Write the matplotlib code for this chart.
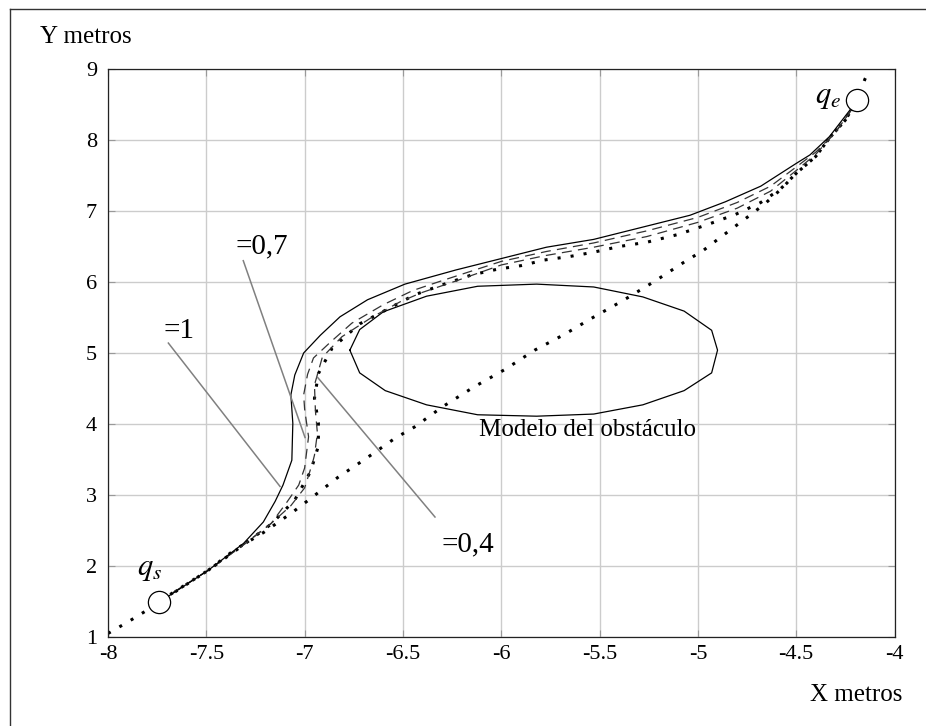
import matplotlib
matplotlib.use("Agg")
import matplotlib.pyplot as plt
from matplotlib.lines import Line2D

plt.rcParams['font.family'] = ['Liberation Serif', 'DejaVu Serif']
plt.rcParams['mathtext.fontset'] = 'stix'
plt.rcParams['axes.unicode_minus'] = False

#===== DATA =====#
# start / goal configurations
q_start = (-7.74, 1.50)
q_end = (-4.19, 8.56)

# straight reference path (dotted)
diag_x = [-8.0, -7.90, -7.80, -7.64, -7.49, -7.36, -7.21, -7.06, -6.97, -6.83, -6.69, -6.54,
          -6.44, -6.30, -6.14, -5.98, -5.83, -5.68, -5.54, -5.38, -5.22, -5.07, -4.97, -4.88,
          -4.74, -4.66, -4.58, -4.50, -4.40, -4.33, -4.25, -4.19, -4.15, -4.13]
diag_y = [1.05, 1.21, 1.38, 1.67, 1.94, 2.22, 2.47, 2.76, 2.95, 3.25, 3.51, 3.80,
          3.96, 4.24, 4.52, 4.77, 5.04, 5.26, 5.49, 5.74, 6.01, 6.28, 6.45, 6.64,
          6.93, 7.10, 7.30, 7.53, 7.77, 8.03, 8.28, 8.56, 8.86, 8.97]

# lambda = 1 (solid)
l1_x = [-7.74, -7.69, -7.49, -7.31, -7.21, -7.15, -7.11, -7.065, -7.06, -7.07, -7.05, -7.005,
        -6.92, -6.82, -6.68, -6.49, -6.23, -6.0, -5.77, -5.53, -5.04, -4.86, -4.68, -4.50,
        -4.43, -4.33, -4.23, -4.19]
l1_y = [1.50, 1.58, 1.94, 2.32, 2.62, 2.91, 3.14, 3.49, 4.01, 4.41, 4.69, 5.00,
        5.25, 5.51, 5.75, 5.97, 6.17, 6.33, 6.49, 6.60, 6.94, 7.13, 7.35, 7.67,
        7.79, 8.05, 8.41, 8.56]

# lambda = 0.7 (dashed, outer)
l07_x = [-7.74, -7.49, -7.31, -7.17, -7.09, -7.03, -7.00, -6.98, -7.00, -7.005, -6.985, -6.955,
         -6.87, -6.76, -6.60, -6.45, -6.30, -6.0, -5.77, -5.53, -5.26, -5.0, -4.80, -4.63,
         -4.50, -4.40, -4.30, -4.23, -4.19]
l07_y = [1.50, 1.94, 2.30, 2.60, 2.90, 3.14, 3.38, 3.82, 4.21, 4.41, 4.70, 4.93,
         5.15, 5.42, 5.68, 5.88, 6.02, 6.29, 6.43, 6.55, 6.72, 6.91, 7.12, 7.35,
         7.62, 7.83, 8.11, 8.38, 8.56]

# intermediate dashed path (inner)
lmid_x = [-7.74, -7.49, -7.31, -7.17, -7.07, -7.00, -6.96, -6.95, -6.935, -6.945, -6.95, -6.91,
          -6.81, -6.66, -6.515, -6.405, -6.235, -6.0, -5.78, -5.53, -5.26, -5.0, -4.80, -4.63,
          -4.50, -4.40, -4.30, -4.23, -4.19]
lmid_y = [1.50, 1.94, 2.30, 2.60, 2.85, 3.10, 3.45, 3.56, 3.87, 4.18, 4.55, 4.94,
          5.23, 5.50, 5.72, 5.85, 6.01, 6.24, 6.37, 6.49, 6.64, 6.84, 7.04, 7.28,
          7.57, 7.80, 8.11, 8.38, 8.56]

# lambda = 0.4 (dotted)
l04_x = [-7.74, -7.49, -7.31, -7.17, -7.05, -6.97, -6.93, -6.93, -6.95, -6.93, -6.86, -6.72,
         -6.57, -6.44, -6.30, -6.15, -6.02, -5.90, -5.78, -5.65, -5.53, -5.40, -5.26, -5.10,
         -4.95, -4.81, -4.68, -4.58, -4.50, -4.40, -4.33, -4.25, -4.19]
l04_y = [1.50, 1.94, 2.30, 2.59, 2.93, 3.33, 3.69, 4.02, 4.36, 4.71, 5.07, 5.41,
         5.63, 5.82, 5.96, 6.10, 6.18, 6.23, 6.31, 6.36, 6.42, 6.50, 6.56, 6.67,
         6.81, 6.95, 7.12, 7.31, 7.53, 7.77, 8.03, 8.28, 8.56]

# obstacle model (polygon)
obs_x = [-6.77, -6.72, -6.60, -6.38, -6.12, -5.82, -5.53, -5.28, -5.07, -4.93, -4.90, -4.93,
         -5.07, -5.28, -5.53, -5.82, -6.12, -6.38, -6.59, -6.72, -6.77]
obs_y = [5.04, 5.33, 5.58, 5.80, 5.94, 5.97, 5.93, 5.79, 5.59, 5.32, 5.04, 4.72,
         4.47, 4.27, 4.14, 4.11, 4.13, 4.27, 4.47, 4.72, 5.04]

# labels: text, text anchor, leader line (start, end)
labels = ['=1', '=0,7', '=0,4']
label_pos = [(-7.72, 5.21), (-7.354, 6.41), (-6.303, 2.21)]
leader_start = [(-7.693, 5.14), (-7.312, 6.30), (-6.337, 2.69)]
leader_end = [(-7.125, 3.12), (-6.998, 3.81), (-6.935, 4.66)]

xticks = [-8, -7.5, -7, -6.5, -6, -5.5, -5, -4.5, -4]
xtick_labels = ['-8', '-7.5', '-7', '-6.5', '-6', '-5.5', '-5', '-4.5', '-4']
yticks = [1, 2, 3, 4, 5, 6, 7, 8, 9]

#===== FIGURE =====#
fig = plt.figure(figsize=(9.26, 7.26), dpi=100)
ax = fig.add_axes([108 / 926, 1 - 637 / 726, 786.5 / 926, 568 / 726])

ax.set_xlim(-8, -4)
ax.set_ylim(1, 9)
ax.set_xticks(xticks)
ax.set_xticklabels(xtick_labels)
ax.set_yticks(yticks)
ax.set_yticklabels([str(v) for v in yticks])
ax.grid(True, color='#cccccc', linewidth=1.0)
ax.set_axisbelow(True)
ax.tick_params(direction='in', length=5, color='#999999', top=True, right=True,
               labelsize=16)
ax.tick_params(axis='x', pad=6)
ax.tick_params(axis='y', pad=8)
for sp in ax.spines.values():
    sp.set_color('#222222')
    sp.set_linewidth(0.9)

# obstacle
ax.plot(obs_x, obs_y, color='black', linewidth=0.9)
ax.text(-6.113, 3.835, 'Modelo del obstáculo', fontsize=18, va='baseline', ha='left')

# paths
ax.plot(diag_x, diag_y, color='black', linewidth=2.2, linestyle=(0, (1, 3.3)))
ax.plot(l04_x, l04_y, color='black', linewidth=2.2, linestyle=(0, (1, 3.3)))
ax.plot(lmid_x, lmid_y, color='#333333', linewidth=0.9, linestyle=(0, (8, 5)))
ax.plot(l07_x, l07_y, color='#333333', linewidth=0.9, linestyle=(0, (8, 5)))
ax.plot(l1_x, l1_y, color='black', linewidth=0.9)

# leader lines and labels
for txt, pos, p0, p1 in zip(labels, label_pos, leader_start, leader_end):
    ax.plot([p0[0], p1[0]], [p0[1], p1[1]], color='#808080', linewidth=1.1)
    ax.text(pos[0], pos[1], txt, fontsize=21, va='baseline', ha='left')

# start / goal markers
for q in (q_start, q_end):
    ax.plot(q[0], q[1], 'o', markersize=16, markerfacecolor='white',
            markeredgecolor='black', markeredgewidth=0.9, zorder=5)
ax.text(-7.852, 1.873, '$q_s$', fontsize=22, va='baseline', ha='left')
ax.text(-4.404, 8.517, '$q_e$', fontsize=22, va='baseline', ha='left')

# axis titles
fig.text(40 / 926, 1 - 43 / 726, 'Y metros', fontsize=18, va='baseline', ha='left')
fig.text(902 / 926, 1 - 701 / 726, 'X metros', fontsize=18, va='baseline', ha='right')

# outer frame (left and top edges)
fig.add_artist(Line2D([10 / 926, 10 / 926], [0, 1 - 9 / 726], color='#333333', linewidth=1.0))
fig.add_artist(Line2D([10 / 926, 1], [1 - 9 / 726, 1 - 9 / 726], color='#333333', linewidth=1.0))

fig.savefig('out.png', dpi=100)
